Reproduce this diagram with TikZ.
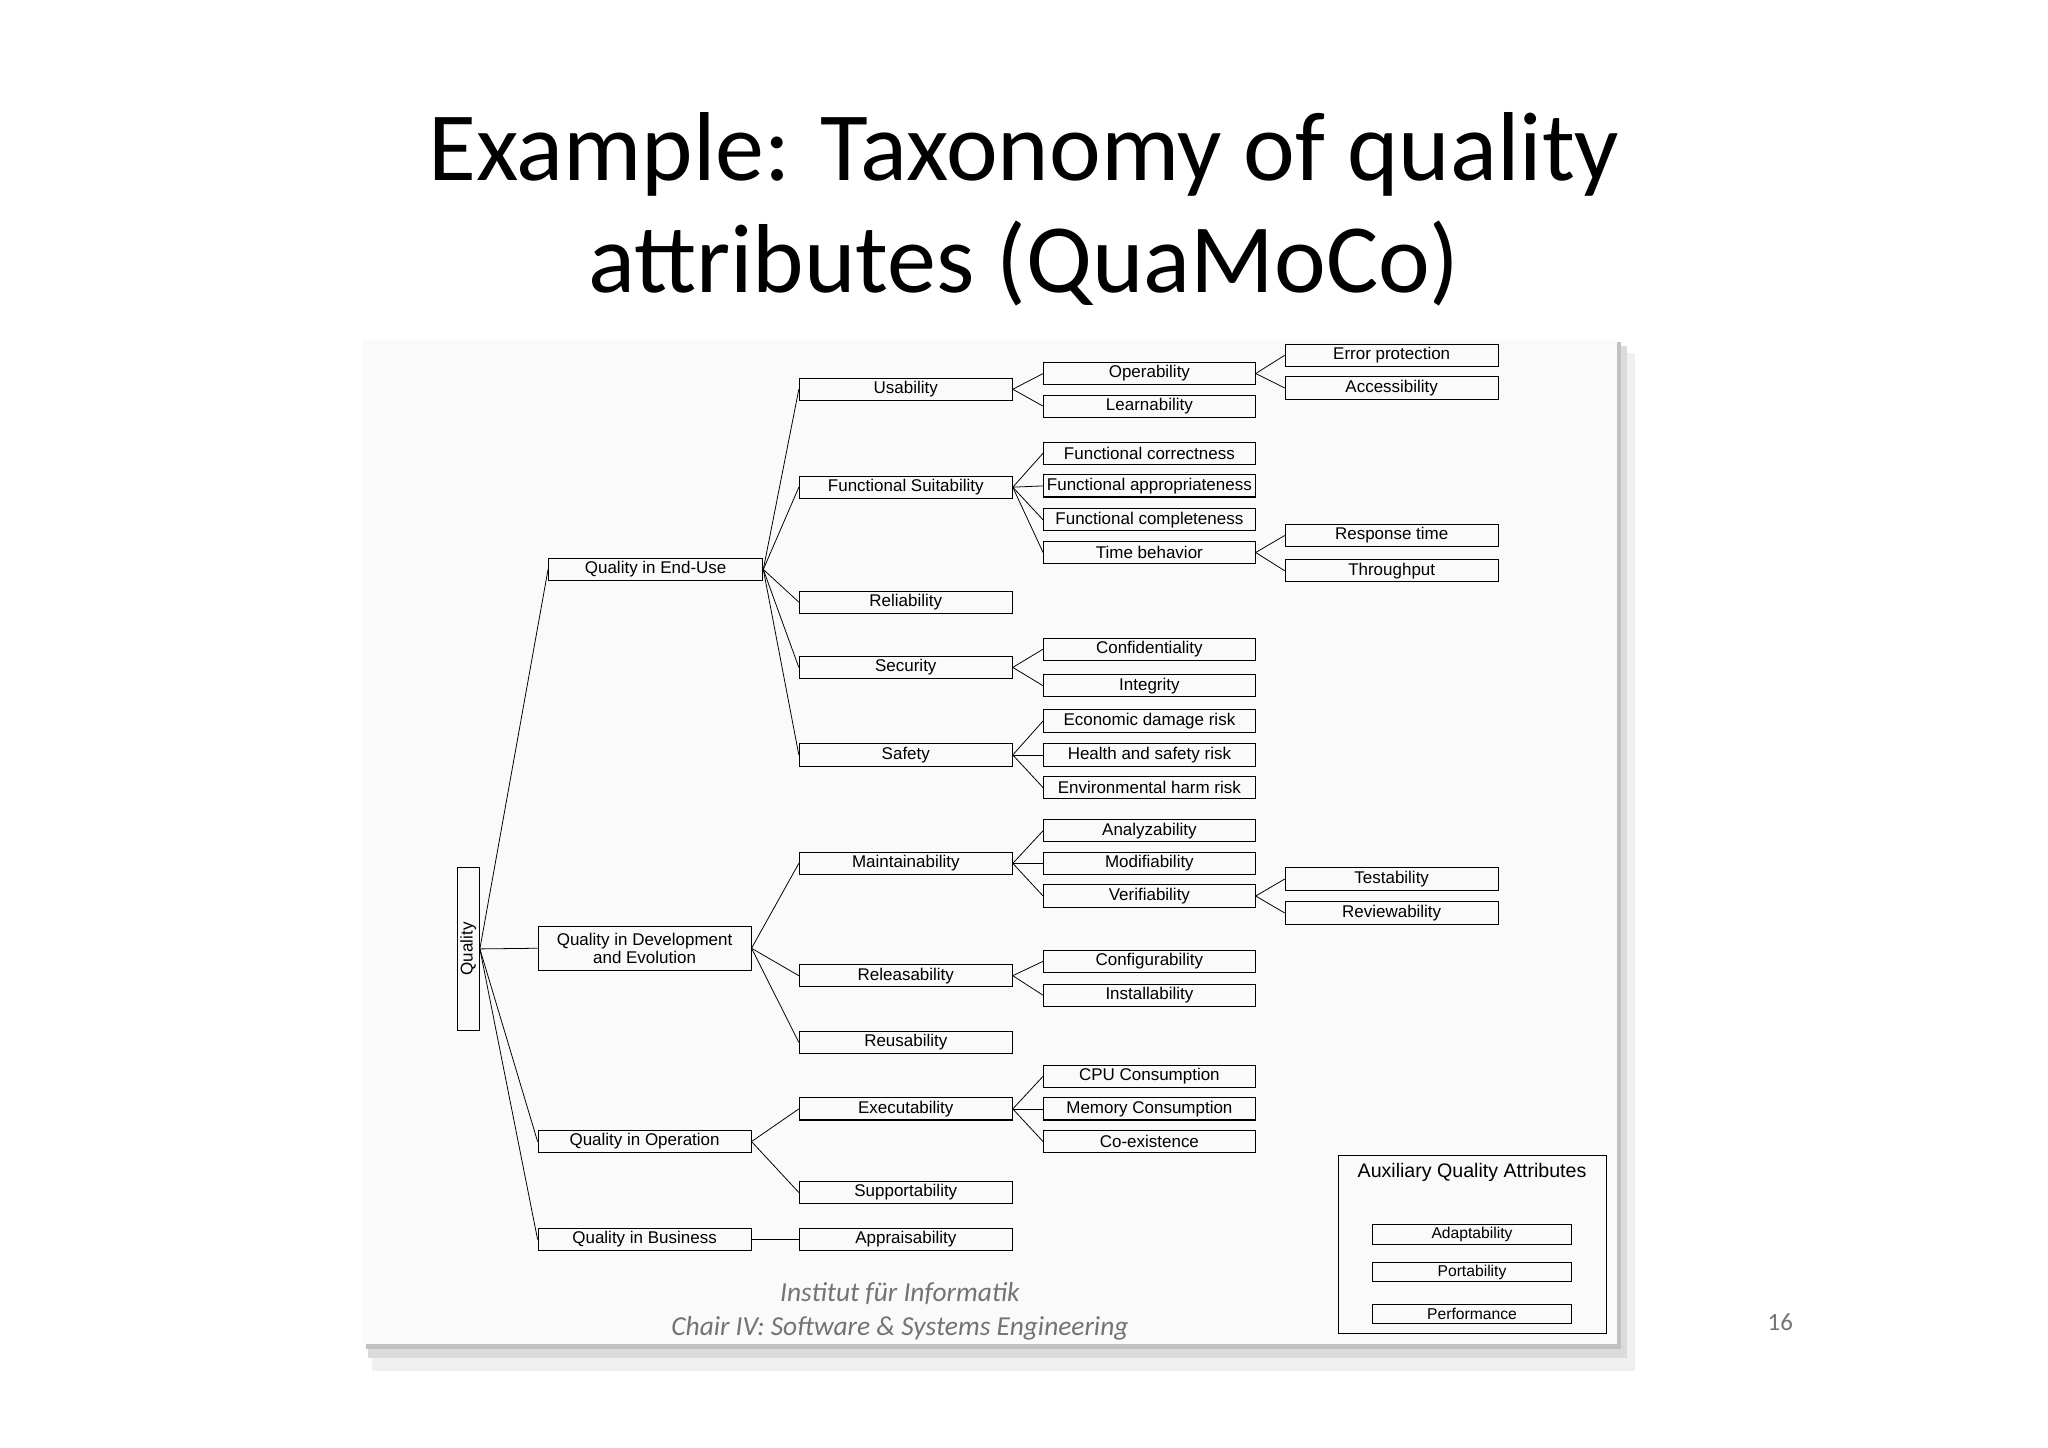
\documentclass[tikz,border=0pt]{standalone}
\usepackage{fontspec}
\setmainfont{Carlito}
\newfontfamily\arialf{Liberation Sans}
\begin{document}
\begin{tikzpicture}[x=1pt,y=1pt,
  bx/.style={draw,line width=0.8pt,minimum width=163pt,minimum height=17pt,inner sep=0pt,font=\arialf\fontsize{13}{14}\selectfont},
  sx/.style={draw,line width=0.8pt,minimum width=152pt,minimum height=15pt,inner sep=0pt,font=\arialf\fontsize{12}{13}\selectfont},
  ln/.style={line width=0.6pt}]
\useasboundingbox (0,0) rectangle (1568,-1108);
\fill[white] (0,0) rectangle (1568,-1108);
% shadow and panel
\fill[black!6] (285,-270) rectangle (1252,-1050);
\fill[black!14] (282,-265) rectangle (1246,-1040);
\fill[black!24] (280,-262) rectangle (1241,-1033);
\fill[white!98!black] (277,-260) rectangle (1238,-1029);
% title
\node[font=\fontsize{75}{86}\selectfont,align=center] (title) at (784,-160) {Example: Taxonomy of quality\\attributes (QuaMoCo)};
% tree
\node[bx,minimum width=125pt,minimum height=17pt,rotate=90] (q) at (358.5,-726.5) {Quality};
\node[bx,minimum width=164pt] (eu) at (502,-436) {Quality in End-Use};
\node[bx,minimum height=34pt,align=center] (de) at (493.5,-726) {Quality in Development\\and Evolution};
\node[bx] (op) at (493.5,-874) {Quality in Operation};
\node[bx] (bu) at (493.5,-949) {Quality in Business};
\foreach \n/\t/\y in {us/Usability/298, fs/Functional Suitability/373, re/Reliability/461, se/Security/511, sa/Safety/578, ma/Maintainability/661, rl/Releasability/747, ru/Reusability/798, ex/Executability/849, su/Supportability/913, ap/Appraisability/949}
  \node[bx] (\n) at (693.5,-\y) {\t};
\foreach \n/\t/\y in {opr/Operability/286, lea/Learnability/311, fco/Functional correctness/347, fap/Functional appropriateness/372, fcm/Functional completeness/398, tib/Time behavior/423, con/Confidentiality/497, int/Integrity/525, eco/Economic damage risk/552, hea/Health and safety risk/578, env/Environmental harm risk/603, ana/Analyzability/636, mod/Modifiability/661, ver/Verifiability/686, cfg/Configurability/736, ins/Installability/762, cpu/CPU Consumption/824, mem/Memory Consumption/849, coe/Co-existence/874}
  \node[bx,minimum width=162pt] (\n) at (880,-\y) {\t};
\foreach \n/\t/\y in {err/Error protection/272, acc/Accessibility/297, rsp/Response time/410, thr/Throughput/437, tes/Testability/673, rev/Reviewability/699}
  \node[bx] (\n) at (1065.5,-\y) {\t};
\foreach \b in {eu,de,op,bu}
  \draw[ln] (q.south) -- (\b.west);
\foreach \a/\b in {eu/us,eu/fs,eu/re,eu/se,eu/sa, de/ma,de/rl,de/ru, op/ex,op/su, bu/ap,
  us/opr,us/lea, fs/fco,fs/fap,fs/fcm,fs/tib, se/con,se/int, sa/eco,sa/hea,sa/env, ma/ana,ma/mod,ma/ver, rl/cfg,rl/ins, ex/cpu,ex/mem,ex/coe,
  opr/err,opr/acc, tib/rsp,tib/thr, ver/tes,ver/rev}
  \draw[ln] (\a.east) -- (\b.west);
% auxiliary
\node[draw,line width=0.8pt,minimum width=205pt,minimum height=136pt,inner sep=0pt] (aux) at (1127.5,-953) {};
\node[font=\arialf\fontsize{15}{16}\selectfont] (auxt) at (1127,-898) {Auxiliary Quality Attributes};
\node[sx] (ad) at (1127,-945) {Adaptability};
\node[sx] (po) at (1127,-974) {Portability};
\node[sx] (pe) at (1127,-1006) {Performance};
% footer
\node[font=\itshape\fontsize{21}{26}\selectfont,text=black!55,align=center] (ft) at (689,-1004) {Institut für Informatik\\Chair IV: Software \& Systems Engineering};
\node[font=\fontsize{19}{20}\selectfont,text=black!55] (pg) at (1363,-1012) {16};
\end{tikzpicture}
\end{document}
